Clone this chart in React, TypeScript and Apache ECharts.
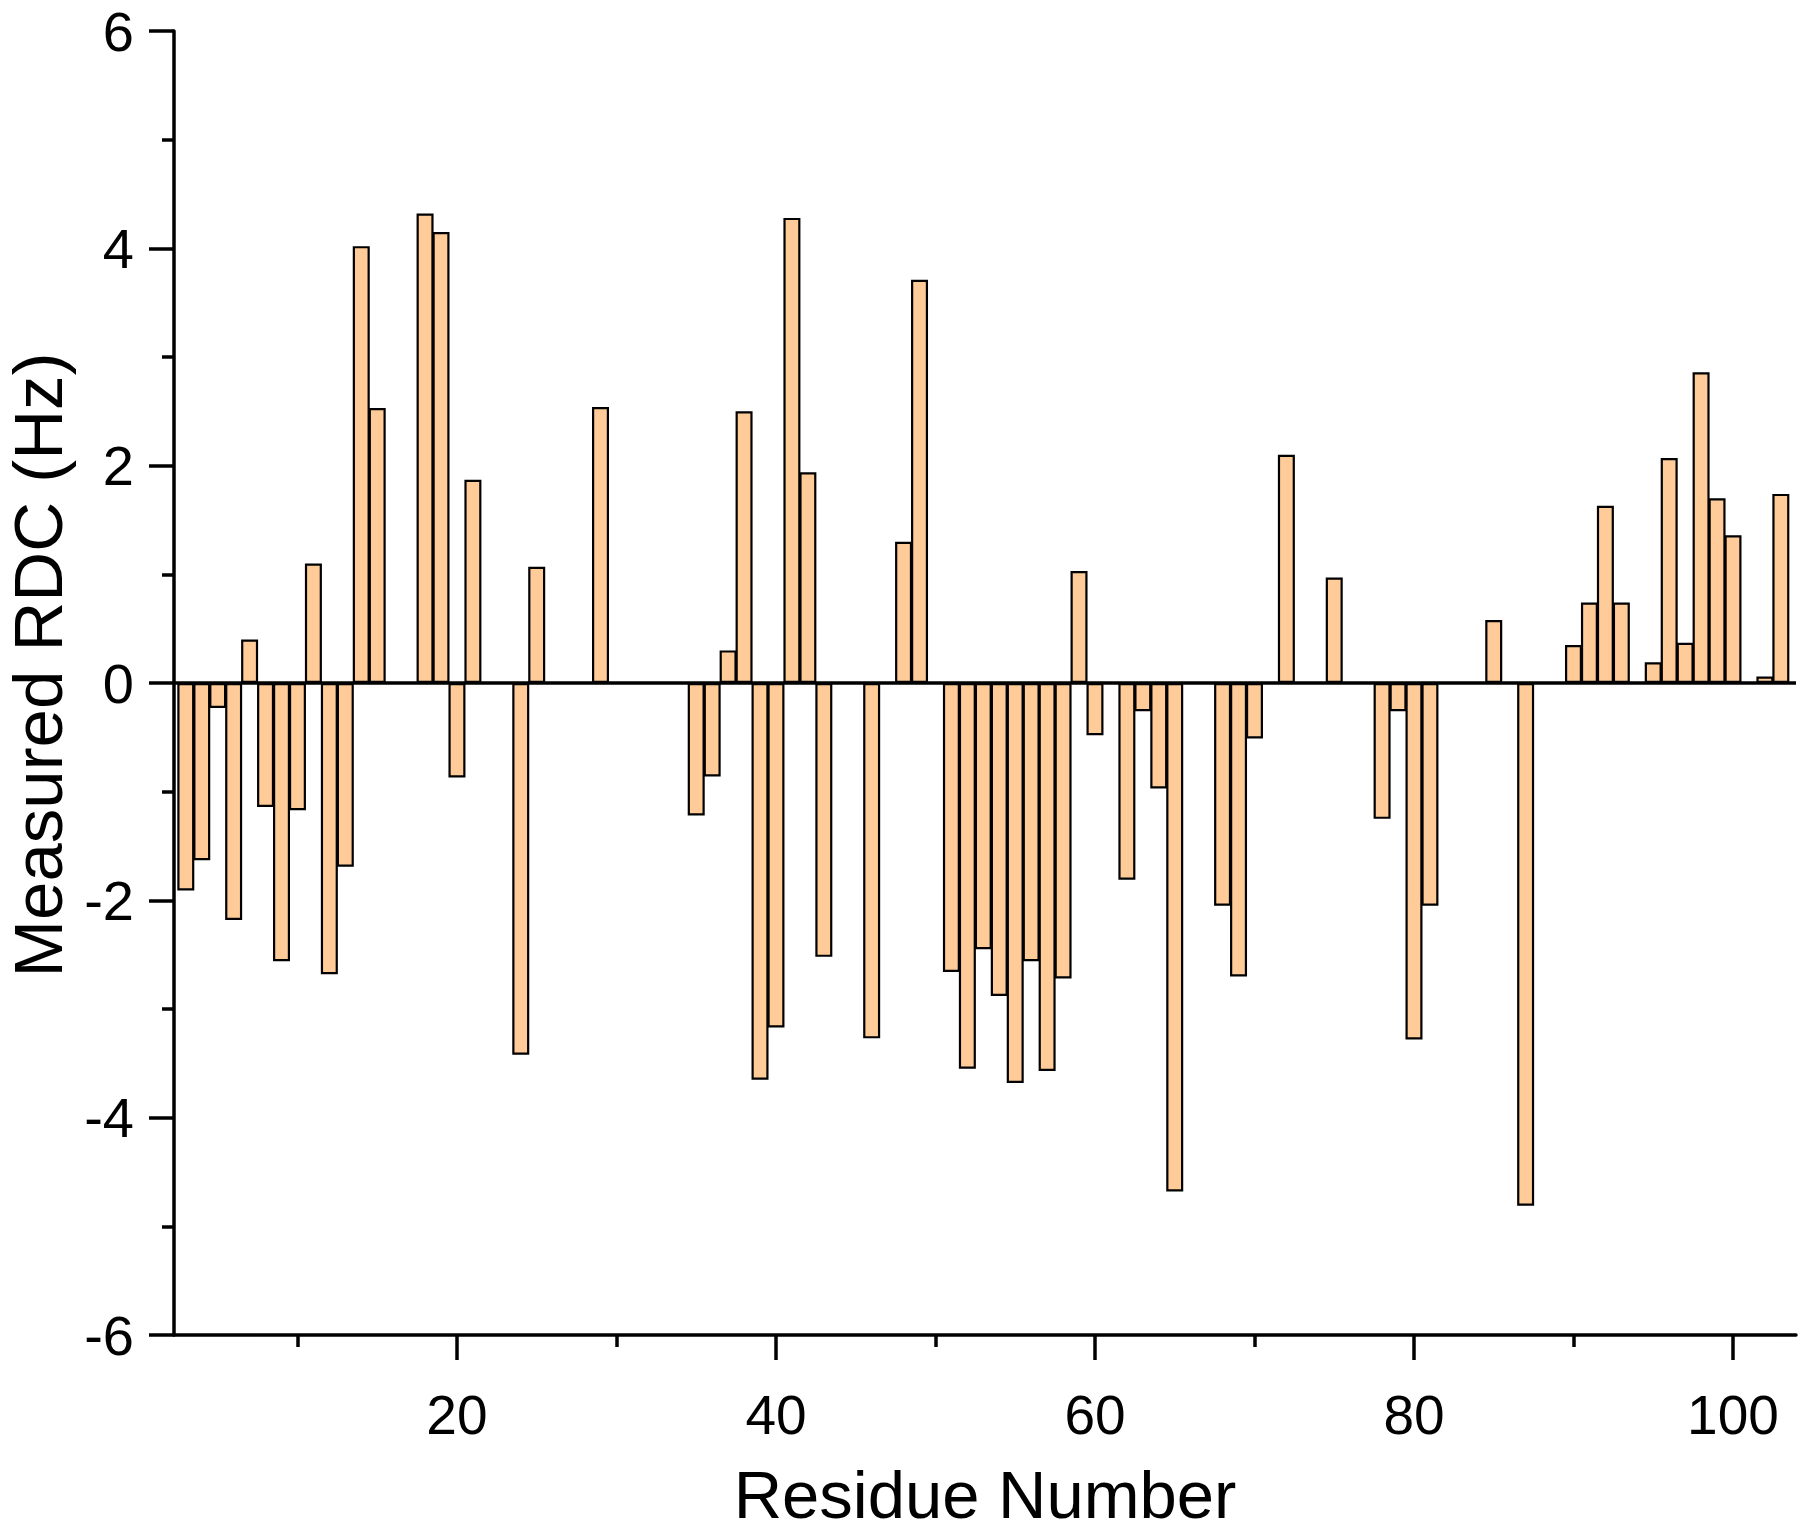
import React, { useEffect, useRef } from "react";
import * as echarts from "echarts";

const residues = [
  3, 4, 5, 6, 7, 8, 9, 10, 11, 12, 13, 14, 15, 18, 19, 20, 21, 24, 25, 29,
  35, 36, 37, 38, 39, 40, 41, 42, 43, 46, 48, 49, 51, 52, 53, 54, 55, 56, 57, 58,
  59, 60, 62, 63, 64, 65, 68, 69, 70, 72, 75, 78, 79, 80, 81, 85, 87, 90, 91, 92,
  93, 95, 96, 97, 98, 99, 100, 102, 103,
];

const rdcValues = [
  -1.91, -1.63, -0.23, -2.18, 0.4, -1.14, -2.56, -1.17, 1.1, -2.68, -1.69, 4.02, 2.53, 4.32, 4.15, -0.87, 1.87, -3.42, 1.07, 2.54,
  -1.22, -0.86, 0.3, 2.5, -3.65, -3.17, 4.28, 1.94, -2.52, -3.27, 1.3, 3.71, -2.66, -3.55, -2.45, -2.88, -3.68, -2.56, -3.57, -2.72,
  1.03, -0.48, -1.81, -0.26, -0.97, -4.68, -2.05, -2.7, -0.51, 2.1, 0.97, -1.25, -0.26, -3.28, -2.05, 0.58, -4.81, 0.35, 0.74, 1.63,
  0.74, 0.19, 2.07, 0.37, 2.86, 1.7, 1.36, 0.06, 1.74,
];

const xMajorTicks = [20, 40, 60, 80, 100];
const xMinorTicks = [10, 30, 50, 70, 90];
const xRange = [2.26, 103.95];
const yRange = [-6, 6];

const FONT = "'Liberation Sans', Arial, Helvetica, sans-serif";

export default function App() {
  const ref = useRef<HTMLDivElement>(null);

  useEffect(() => {
    if (!ref.current) return;
    const chart = echarts.init(ref.current, null, { renderer: "svg" });
    const data = residues.map((r, i) => [r, rdcValues[i]]);
    chart.setOption({
      animation: false,
      backgroundColor: "#ffffff",
      textStyle: { fontFamily: FONT, color: "#000" },
      grid: {
        left: 174,
        right: 4,
        top: 31,
        bottom: 198,
        containLabel: false,
        outerBoundsMode: "none",
      },
      xAxis: [
        {
          type: "value",
          position: "bottom",
          min: xRange[0],
          max: xRange[1],
          name: "Residue Number",
          nameLocation: "middle",
          nameGap: 134,
          nameTextStyle: { fontSize: 67, lineHeight: 50, color: "#000", fontFamily: FONT },
          axisLine: { show: true, onZero: false, lineStyle: { color: "#000", width: 3.5 } },
          axisTick: {
            show: true,
            inside: false,
            length: 25,
            customValues: xMajorTicks,
            lineStyle: { color: "#000", width: 3.5 },
          },
          axisLabel: {
            show: true,
            customValues: xMajorTicks,
            fontSize: 55,
            color: "#000",
            margin: 52,
            fontFamily: FONT,
          },
          splitLine: { show: false },
        },
        {
          type: "value",
          position: "bottom",
          offset: 0,
          min: xRange[0],
          max: xRange[1],
          axisLine: { show: false, onZero: false },
          axisTick: {
            show: true,
            inside: false,
            length: 12,
            customValues: xMinorTicks,
            lineStyle: { color: "#000", width: 3.5 },
          },
          axisLabel: { show: false },
          splitLine: { show: false },
        },
      ],
      yAxis: {
        type: "value",
        min: yRange[0],
        max: yRange[1],
        interval: 2,
        name: "Measured RDC (Hz)",
        nameLocation: "middle",
        nameRotate: 90,
        nameGap: 110,
        nameTextStyle: {
          fontSize: 69,
          lineHeight: 50,
          color: "#000",
          fontFamily: FONT,
          padding: [0, 0, 0, 36],
        },
        axisLine: { show: true, onZero: false, lineStyle: { color: "#000", width: 3.5 } },
        axisTick: { show: true, inside: false, length: 25, lineStyle: { color: "#000", width: 3.5 } },
        minorTick: { show: true, splitNumber: 2, length: 12, lineStyle: { color: "#000", width: 3.5 } },
        axisLabel: { fontSize: 56, color: "#000", margin: 40, fontFamily: FONT },
        splitLine: { show: false },
        minorSplitLine: { show: false },
      },
      series: [
        {
          type: "bar",
          xAxisIndex: 0,
          yAxisIndex: 0,
          data,
          barWidth: 17,
          itemStyle: { color: "#FFCC99", borderColor: "#000", borderWidth: 2.2 },
          emphasis: { disabled: true },
          markLine: {
            silent: true,
            symbol: "none",
            label: { show: false },
            lineStyle: { color: "#000", width: 3.5, type: "solid" },
            data: [{ yAxis: 0 }],
          },
        },
      ],
    });
    return () => chart.dispose();
  }, []);

  return (
    <div
      ref={ref}
      style={{ position: "absolute", left: 0, top: 0, width: 1800, height: 1533, background: "#fff" }}
    />
  );
}
